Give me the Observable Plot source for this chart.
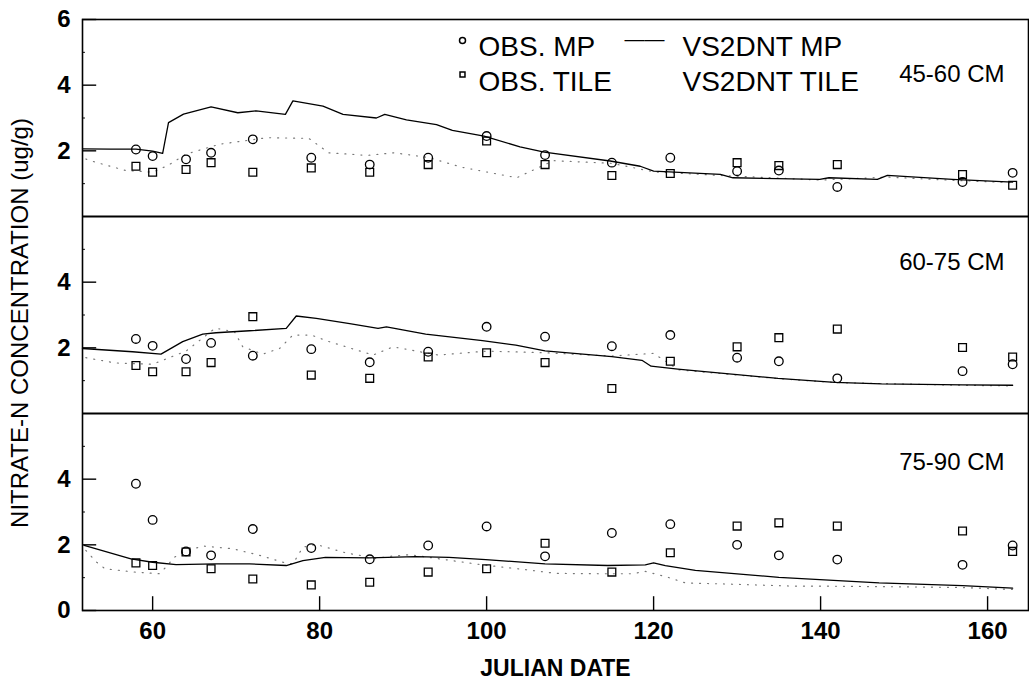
<!DOCTYPE html>
<html><head><meta charset="utf-8">
<script src="https://cdn.jsdelivr.net/npm/d3@7"></script>
<script src="https://cdn.jsdelivr.net/npm/@observablehq/plot@0.6"></script>
<style>
body{margin:0;background:#fff}
#chart svg{display:block;font-family:"Liberation Sans",Arial,sans-serif}
</style>
</head><body><div id="chart"></div>
<script>
// ---- data ----
const panels = ["45-60 CM", "60-75 CM", "75-90 CM"];
const panelOffsets = [12, 6, 0];

const obsDates = [58, 60, 64, 67, 72, 79, 86, 93, 100, 107, 115, 122, 130, 135, 142, 157, 163];
const obsMP45   = [2.04, 1.84, 1.74, 1.94, 2.35, 1.79, 1.58, 1.79, 2.45, 1.87, 1.64, 1.79, 1.38, 1.40, 0.90, 1.05, 1.33];
const obsTile45 = [1.53, 1.35, 1.43, 1.64, 1.35, 1.48, 1.35, 1.58, 2.30, 1.58, 1.25, 1.31, 1.64, 1.55, 1.58, 1.28, 0.95];
const obsMP60   = [2.27, 2.06, 1.66, 2.15, 1.76, 1.96, 1.56, 1.88, 2.64, 2.34, 2.05, 2.39, 1.70, 1.59, 1.07, 1.29, 1.50];
const obsTile60 = [1.46, 1.27, 1.27, 1.55, 2.95, 1.17, 1.07, 1.72, 1.85, 1.55, 0.76, 1.59, 2.03, 2.31, 2.57, 2.01, 1.72];
const obsMP75   = [3.86, 2.76, 1.80, 1.68, 2.48, 1.90, 1.56, 1.98, 2.56, 1.65, 2.36, 2.63, 2.00, 1.68, 1.55, 1.39, 1.98];
const obsTile75 = [1.45, 1.37, 1.78, 1.27, 0.96, 0.78, 0.86, 1.17, 1.27, 2.05, 1.17, 1.76, 2.57, 2.67, 2.57, 2.42, 1.80];

// VS2DNT MP (solid)
const simMP45Dates = [51.6, 55, 58, 60, 61.2, 61.9, 63.7, 67, 70.2, 72.4, 75.9, 76.8, 80.4, 82.8, 86.8, 87.8, 90.4, 94, 95.9, 99.7, 104, 106.9, 114.8, 118.4, 120, 128, 129.5, 139.9, 141, 146.8, 148, 155.8, 163];
const simMP45 = [2.06, 2.05, 2.05, 1.99, 1.92, 2.86, 3.12, 3.34, 3.16, 3.22, 3.11, 3.52, 3.36, 3.11, 3.00, 3.11, 2.94, 2.80, 2.62, 2.45, 2.12, 1.96, 1.69, 1.53, 1.38, 1.28, 1.18, 1.13, 1.18, 1.13, 1.25, 1.13, 1.05];
const simMP60Dates = [51.6, 57.6, 61, 63.6, 66, 67.6, 71.6, 76, 77.2, 79.6, 83.6, 87, 88, 92.7, 99.5, 103.5, 107, 115, 118.6, 119.7, 122.9, 134.9, 141.7, 147.3, 157, 163];
const simMP60 = [1.98, 1.88, 1.81, 2.19, 2.42, 2.46, 2.52, 2.59, 2.97, 2.90, 2.74, 2.59, 2.64, 2.42, 2.22, 2.08, 1.91, 1.73, 1.62, 1.44, 1.35, 1.07, 0.95, 0.90, 0.87, 0.86];
const simMP75Dates = [51.8, 57.4, 60, 62.8, 67.6, 71.6, 76, 78, 80.7, 85.9, 91.5, 95.5, 99.9, 107, 114.5, 119, 120, 121.4, 125, 135, 147, 157, 163];
const simMP75 = [1.98, 1.57, 1.47, 1.40, 1.42, 1.42, 1.37, 1.52, 1.62, 1.60, 1.64, 1.62, 1.55, 1.42, 1.37, 1.39, 1.45, 1.37, 1.22, 1.01, 0.84, 0.76, 0.68];

// VS2DNT TILE (dotted)
const simTile45Dates = [52, 53.2, 56.8, 60, 61.8, 64, 68, 73.7, 78.7, 81.1, 85.7, 88.9, 93, 97, 103.6, 108, 115, 120, 128, 140, 148, 156, 163];
const simTile45 = [1.75, 1.65, 1.40, 1.35, 1.55, 1.90, 2.20, 2.40, 2.38, 1.94, 1.86, 1.94, 1.80, 1.50, 1.18, 1.70, 1.62, 1.36, 1.25, 1.11, 1.20, 1.10, 1.03];
const simTile60Dates = [52, 55.5, 60, 64, 67.5, 69.8, 70.8, 73.2, 75.2, 76.8, 79, 81, 86.4, 88.8, 94.2, 100, 107, 115, 120, 123, 135, 142, 157, 163];
const simTile60 = [1.70, 1.54, 1.50, 1.90, 2.60, 2.49, 2.03, 1.81, 1.98, 2.39, 2.39, 2.20, 1.78, 2.03, 1.78, 1.90, 1.85, 1.75, 1.83, 1.33, 1.06, 0.94, 0.86, 0.84];
const simTile75Dates = [52, 53.3, 54.3, 57.9, 60.8, 61.6, 62.6, 64, 66.2, 69.6, 72.8, 75.6, 76.8, 78, 79.6, 81.4, 83.2, 84.8, 86.4, 88.4, 90.8, 95, 99.2, 104.8, 108.3, 113.3, 117.4, 119, 121.6, 123.8, 128.2, 137, 141, 150, 157, 163];
const simTile75 = [1.83, 1.47, 1.27, 1.17, 1.12, 1.32, 1.62, 1.83, 1.96, 1.88, 1.68, 1.47, 1.42, 1.93, 2.01, 1.88, 1.75, 1.68, 1.57, 1.65, 1.70, 1.55, 1.40, 1.24, 1.13, 1.12, 1.12, 1.19, 1.02, 0.84, 0.81, 0.74, 0.74, 0.72, 0.70, 0.64];

const xTicks = [60, 80, 100, 120, 140, 160];
const yTicks = [0, 2, 4, 8, 10, 14, 16, 18];
const yTickLabels = ["0", "2", "4", "2", "4", "2", "4", "6"];
const yMinorTicks = [1, 3, 5, 7, 9, 11, 13, 15, 17];
const legendLabels = ["OBS. MP", "OBS. TILE", "VS2DNT MP", "VS2DNT TILE"];
const xLabel = "JULIAN DATE";
const yLabel = "NITRATE-N CONCENTRATION (ug/g)";

// ---- tables ----
const obsMP = [obsMP45, obsMP60, obsMP75];
const obsTile = [obsTile45, obsTile60, obsTile75];
const simMPD = [simMP45Dates, simMP60Dates, simMP75Dates], simMPV = [simMP45, simMP60, simMP75];
const simTD = [simTile45Dates, simTile60Dates, simTile75Dates], simTV = [simTile45, simTile60, simTile75];

const rowsMP = [], rowsTile = [], lineMP = [], lineTile = [];
panels.forEach((p, i) => {
  const off = panelOffsets[i];
  obsDates.forEach((d, j) => {
    rowsMP.push({panel: p, date: d, y: obsMP[i][j] + off});
    rowsTile.push({panel: p, date: d, y: obsTile[i][j] + off});
  });
  simMPD[i].forEach((d, j) => lineMP.push({panel: p, date: d, y: simMPV[i][j] + off}));
  simTD[i].forEach((d, j) => lineTile.push({panel: p, date: d, y: simTV[i][j] + off}));
});

const xDomain = [51.6, 164.9];
const FL = 82, FT = 19; // frame left/top in px

const chart = Plot.plot({
  width: 1029, height: 686,
  marginLeft: 82, marginRight: 1, marginTop: 19, marginBottom: 76,
  style: {fontFamily: '"Liberation Sans", Arial, sans-serif', color: "black", background: "white"},
  x: {domain: xDomain},
  y: {domain: [0, 18]},
  marks: [
    // model lines
    Plot.line(lineTile, {x: "date", y: "y", z: "panel", stroke: "#777", strokeWidth: 1.2, strokeDasharray: "1,7"}),
    Plot.line(lineMP, {x: "date", y: "y", z: "panel", stroke: "black", strokeWidth: 1.3}),
    // observations
    Plot.dot(rowsMP, {x: "date", y: "y", r: 4.3, stroke: "black", strokeWidth: 1.3, fill: "none"}),
    Plot.dot(rowsTile, {x: "date", y: "y", symbol: "square", r: 4.4, stroke: "black", strokeWidth: 1.3, fill: "none"}),
    // frame and panel separators
    Plot.frame({stroke: "black", strokeWidth: 1.6}),
    Plot.ruleY([6, 12], {stroke: "black", strokeWidth: 1.8}),
    // inward ticks
    Plot.ruleY(yTicks, {y: d => d, x1: xDomain[0], x2: xDomain[0] + 1.7, stroke: "black", strokeWidth: 1.4}),
    Plot.ruleY(yMinorTicks, {y: d => d, x1: xDomain[0], x2: xDomain[0] + 0.35, stroke: "black", strokeWidth: 1}),
    Plot.ruleX(xTicks, {x: d => d, y1: 0, y2: 0.42, stroke: "black", strokeWidth: 1.4}),
    // axes
    Plot.axisY({ticks: yTicks, tickSize: 0, tickPadding: 12, fontSize: 24, fontWeight: "bold", tickFormat: d => yTickLabels[yTicks.indexOf(d)], label: null}),
    Plot.axisX({ticks: xTicks, tickSize: 0, tickPadding: 11, fontSize: 24, fontWeight: "bold", label: null}),
    Plot.text([xLabel], {frameAnchor: "bottom", dy: 58, fontSize: 23, fontWeight: "bold", lineAnchor: "middle"}),
    Plot.text([yLabel], {frameAnchor: "left", dx: -62, dy: 8, rotate: -90, fontSize: 24, textAnchor: "middle", lineAnchor: "middle"}),
    // panel labels
    Plot.text([panels[0]], {frameAnchor: "top-right", dx: -24, dy: 74 - FT, textAnchor: "end", lineAnchor: "middle", fontSize: 24}),
    Plot.text([panels[1]], {frameAnchor: "top-right", dx: -24, dy: 262 - FT, textAnchor: "end", lineAnchor: "middle", fontSize: 24}),
    Plot.text([panels[2]], {frameAnchor: "top-right", dx: -24, dy: 462 - FT, textAnchor: "end", lineAnchor: "middle", fontSize: 24}),
    // legend
    Plot.dot([0], {x: null, y: null, frameAnchor: "top-left", dx: 462 - FL, dy: 40 - FT, r: 3, stroke: "black", fill: "none"}),
    Plot.dot([0], {x: null, y: null, frameAnchor: "top-left", dx: 462 - FL, dy: 74 - FT, r: 2.8, symbol: "square", stroke: "black", fill: "none"}),
    Plot.text(["\u2014\u2014"], {frameAnchor: "top-left", dx: 624 - FL, dy: 39 - FT, textAnchor: "start", lineAnchor: "middle", fontSize: 20}),
    Plot.text([legendLabels[0]], {frameAnchor: "top-left", dx: 478 - FL, dy: 47 - FT, textAnchor: "start", lineAnchor: "middle", fontSize: 28}),
    Plot.text([legendLabels[1]], {frameAnchor: "top-left", dx: 478 - FL, dy: 82 - FT, textAnchor: "start", lineAnchor: "middle", fontSize: 28}),
    Plot.text([legendLabels[2]], {frameAnchor: "top-left", dx: 682 - FL, dy: 47 - FT, textAnchor: "start", lineAnchor: "middle", fontSize: 28}),
    Plot.text([legendLabels[3]], {frameAnchor: "top-left", dx: 682 - FL, dy: 82 - FT, textAnchor: "start", lineAnchor: "middle", fontSize: 28})
  ]
});
document.getElementById("chart").appendChild(chart);
</script>
</body></html>
